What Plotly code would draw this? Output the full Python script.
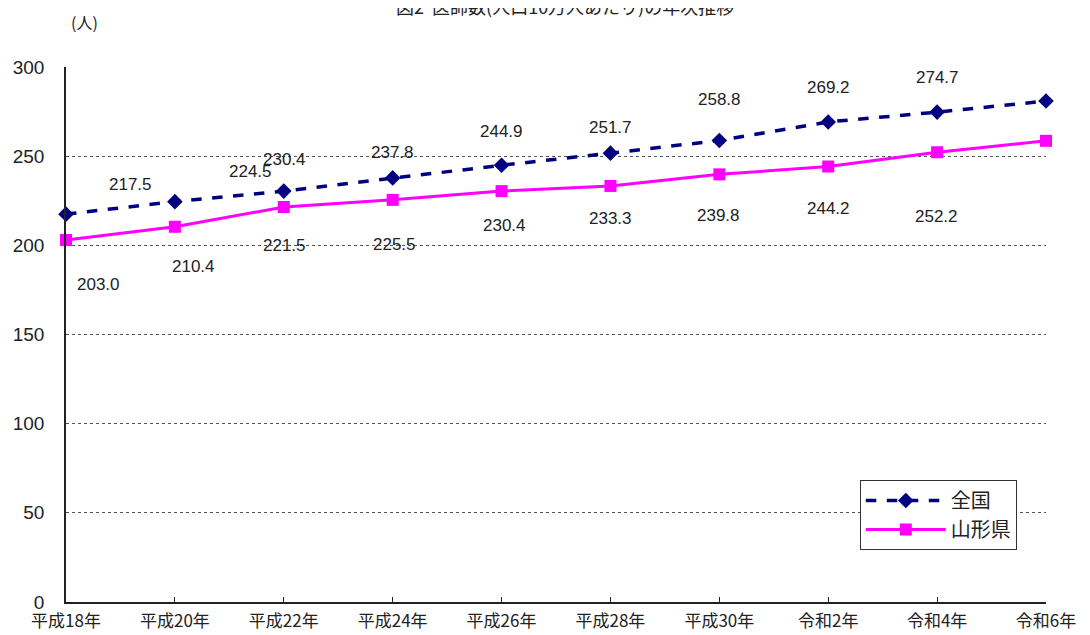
import plotly.graph_objects as go

years = ["平成18年", "平成20年", "平成22年", "平成24年", "平成26年",
         "平成28年", "平成30年", "令和2年", "令和4年", "令和6年"]
zenkoku = [217.5, 224.5, 230.4, 237.8, 244.9, 251.7, 258.8, 269.2, 274.7, 280.9]
yamagata = [203.0, 210.4, 221.5, 225.5, 230.4, 233.3, 239.8, 244.2, 252.2, 258.6]

# label positions (category index, value units)
zk_lab_x = [0.59, 1.69, 2.01, 3.0, 4.0, 5.0, 6.0, 7.0, 8.0, 9.15]
zk_lab_y = [233.9, 241.2, 247.9, 251.8, 263.6, 265.8, 281.5, 288.3, 293.9, 300.6]
ym_lab_x = [0.30, 1.17, 2.01, 3.02, 4.03, 5.0, 5.99, 7.0, 7.99, 9.02]
ym_lab_y = [178.3, 187.9, 199.7, 200.2, 211.4, 214.8, 217.0, 220.4, 216.0, 216.0]

FONT = "Liberation Sans, Noto Sans CJK JP, sans-serif"
idx = list(range(len(years)))

fig = go.Figure()
fig.add_trace(go.Scatter(
    x=idx, y=zenkoku, name="全国", mode="lines+markers",
    line=dict(color="#000080", width=3.5, dash="dash"),
    marker=dict(symbol="diamond", size=12, color="#000080"),
))
fig.add_trace(go.Scatter(
    x=idx, y=yamagata, name="山形県", mode="lines+markers",
    line=dict(color="#FF00FF", width=3),
    marker=dict(symbol="square", size=12, color="#FF00FF"),
))

anns = []
for xv, yv, v in zip(zk_lab_x, zk_lab_y, zenkoku):
    anns.append(dict(x=xv, y=yv, text=f"{v:.1f}", showarrow=False,
                     font=dict(size=17, color="#222", family=FONT)))
for xv, yv, v in zip(ym_lab_x, ym_lab_y, yamagata):
    anns.append(dict(x=xv, y=yv, text=f"{v:.1f}", showarrow=False,
                     font=dict(size=17, color="#222", family=FONT)))
anns.append(dict(xref="paper", yref="paper", x=0.509, y=1.114, xanchor="center",
                 yanchor="middle",
                 text="図2  医師数(人口10万人あたり)の年次推移", showarrow=False,
                 font=dict(size=18, color="#222", family="Noto Sans CJK JP")))
anns.append(dict(xref="paper", yref="paper", x=0.019, y=1.084, xanchor="center",
                 yanchor="middle",
                 text="(人)", showarrow=False,
                 font=dict(size=16, color="#222", family="Noto Sans CJK JP")))

fig.update_layout(
    width=1090, height=635,
    margin=dict(l=58, r=52, t=59, b=41, autoexpand=False),
    paper_bgcolor="white", plot_bgcolor="white",
    font=dict(family=FONT, size=17, color="#222"),
    annotations=anns,
    showlegend=True,
    legend=dict(x=0.81, y=0.228, xanchor="left", yanchor="top",
                bordercolor="#333", borderwidth=1, bgcolor="white",
                font=dict(size=20, family="Noto Sans CJK JP"),
                itemwidth=80),
    xaxis=dict(range=[0, 9], tickmode="array", tickvals=idx, ticktext=years,
               showgrid=False, zeroline=False, showline=True, linecolor="#222",
               linewidth=1.5, ticks="inside", ticklen=5, tickcolor="#222",
               automargin=False, ticklabelstandoff=3,
               tickfont=dict(size=17, family="Noto Sans CJK JP")),
    yaxis=dict(range=[0, 300], tickvals=[0, 50, 100, 150, 200, 250, 300],
               showgrid=True, gridcolor="#555", griddash="dot", gridwidth=1,
               zeroline=False, showline=True, linecolor="#222", linewidth=1.5,
               ticks="", ticklabelstandoff=16, automargin=False,
               tickfont=dict(size=19)),
)
fig.update_traces(cliponaxis=False)

fig.write_html("out.html")
